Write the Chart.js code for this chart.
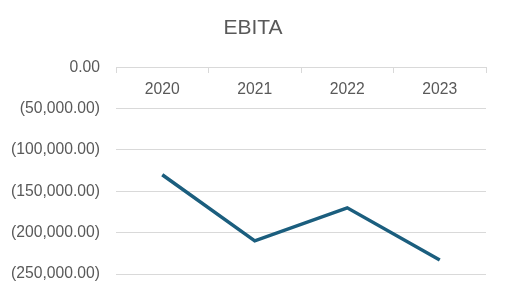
<!DOCTYPE html>
<html>
<head>
<meta charset="utf-8">
<script src="https://cdn.jsdelivr.net/npm/chart.js@4/dist/chart.umd.min.js"></script>
<style>
html,body{margin:0;padding:0;background:#fff;}
#wrap{width:506px;height:293px;}
</style>
</head>
<body>
<div id="wrap"><canvas id="c" width="506" height="293"></canvas></div>
<script>
const categories = ['2020', '2021', '2022', '2023'];
const ebitaValues = [-130000, -210000, -170000, -233000];
const yTickValues = [0, -50000, -100000, -150000, -200000, -250000];

function fmt(v) {
  const s = Math.abs(v).toLocaleString('en-US', {minimumFractionDigits: 2, maximumFractionDigits: 2});
  return v < 0 ? '(' + s + ')' : s;
}

const FONT = 'Liberation Sans, Arial, sans-serif';

new Chart(document.getElementById('c'), {
  type: 'line',
  data: {
    labels: categories,
    datasets: [{
      label: 'EBITA',
      data: ebitaValues,
      borderColor: '#1b5e7e',
      backgroundColor: '#1b5e7e',
      borderWidth: 3.5,
      pointRadius: 0,
      tension: 0,
      fill: false
    }]
  },
  options: {
    responsive: false,
    animation: false,
    layout: {padding: {left: 0, right: 0, top: 0, bottom: 19}},
    plugins: {
      legend: {display: false},
      tooltip: {enabled: false},
      title: {
        display: true,
        text: 'EBITA',
        color: '#595959',
        font: {family: FONT, size: 21, weight: 'normal'},
        padding: {top: 16, bottom: 26}
      }
    },
    scales: {
      x: {
        position: {y: 0},
        offset: true,
        afterFit: (axis) => { axis.height = 0; },
        grid: {display: true, drawOnChartArea: false, drawTicks: true, tickLength: 5, offset: true, color: '#d9d9d9'},
        border: {display: true, color: '#d9d9d9'},
        ticks: {color: '#595959', padding: 8, font: {family: FONT, size: 15.7}}
      },
      y: {
        min: -250000,
        max: 0,
        afterBuildTicks: (axis) => { axis.ticks = yTickValues.map(v => ({value: v})); },
        afterFit: (axis) => { axis.width = 116; axis.paddingTop = 9; axis.paddingBottom = 9; },
        grid: {color: '#d9d9d9', drawTicks: false},
        border: {display: false},
        ticks: {
          color: '#595959',
          padding: 16,
          font: {family: FONT, size: 15.7},
          callback: (v) => fmt(v)
        }
      },
      yRight: {
        position: 'right',
        display: true,
        afterFit: (axis) => { axis.width = 20; },
        grid: {display: false, drawTicks: false},
        border: {display: false},
        ticks: {display: false}
      }
    }
  }
});
</script>
</body>
</html>
